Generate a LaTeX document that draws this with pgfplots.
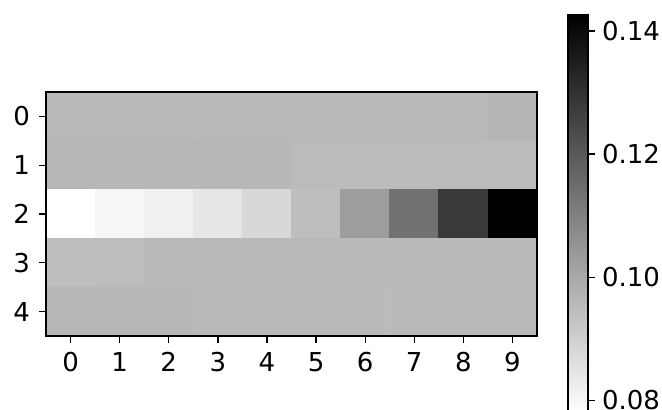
\documentclass[border=0pt]{standalone}
\usepackage{fontspec}
\setmainfont{DejaVu Sans}
\usepackage{pgfplots}
\usepackage{pgfplotstable}
\pgfplotsset{compat=1.18}
\pgfplotstableread{
x y c
0 0 0.0956
1 0 0.0956
2 0 0.0956
3 0 0.0956
4 0 0.0956
5 0 0.0956
6 0 0.0956
7 0 0.0956
8 0 0.0956
9 0 0.0966
0 1 0.0961
1 1 0.0961
2 1 0.0961
3 1 0.0961
4 1 0.0961
5 1 0.0951
6 1 0.0951
7 1 0.0951
8 1 0.0951
9 1 0.0951
0 2 0.0781
1 2 0.0803
2 2 0.0818
3 2 0.0843
4 2 0.0878
5 2 0.0943
6 2 0.1026
7 2 0.1137
8 2 0.1276
9 2 0.1426
0 3 0.0943
1 3 0.0948
2 3 0.0956
3 3 0.0958
4 3 0.0958
5 3 0.0958
6 3 0.0956
7 3 0.0954
8 3 0.0954
9 3 0.0954
0 4 0.0961
1 4 0.0961
2 4 0.0961
3 4 0.0954
4 4 0.0954
5 4 0.0954
6 4 0.0954
7 4 0.0954
8 4 0.0954
9 4 0.0954
}\datatable
\begin{document}
\fontsize{13}{15.6}\selectfont
\begin{tikzpicture}
\useasboundingbox (-23pt,-36.5pt) rectangle (308pt,168pt);
\begin{axis}[
  at={(0,0)}, anchor=south west,
  scale only axis,
  width=245.5pt, height=122pt,
  xmin=-0.5, xmax=9.5, ymin=-0.5, ymax=4.5,
  y dir=reverse,
  enlargelimits=false,
  axis on top,
  xtick={0,...,9}, ytick={0,...,4},
  tick align=outside, major tick length=3.5pt,
  tick style={black, line width=0.65pt},
  axis line style={line width=0.65pt},
  xtick pos=bottom, ytick pos=left,
  /pgf/number format/assume math mode=true,
  tick label style={font=\fontsize{13}{15.6}\selectfont},
  colormap={grayr}{color=(white) color=(black)},
  point meta min=0.0781, point meta max=0.1426,
  colorbar,
  colorbar style={
    at={(parent axis.south east)}, anchor=south west,
    xshift=7pt, yshift=-38pt,
    scale only axis,
    width=10pt, height=198.5pt,
    xtick=\empty,
    ytick={0.08,0.10,0.12,0.14},
    yticklabels={0.08,0.10,0.12,0.14},
    ytick pos=right, yticklabel pos=right,
    yticklabel style={font=\fontsize{13}{15.6}\selectfont, xshift=-1pt},
    tick align=outside, major tick length=3.5pt,
    tick style={black, line width=0.65pt},
    axis line style={line width=0.65pt},
  },
]
\addplot[matrix plot*, mesh/cols=10, point meta=explicit] table[x=x, y=y, meta=c] {\datatable};
\end{axis}
\end{tikzpicture}
\end{document}
